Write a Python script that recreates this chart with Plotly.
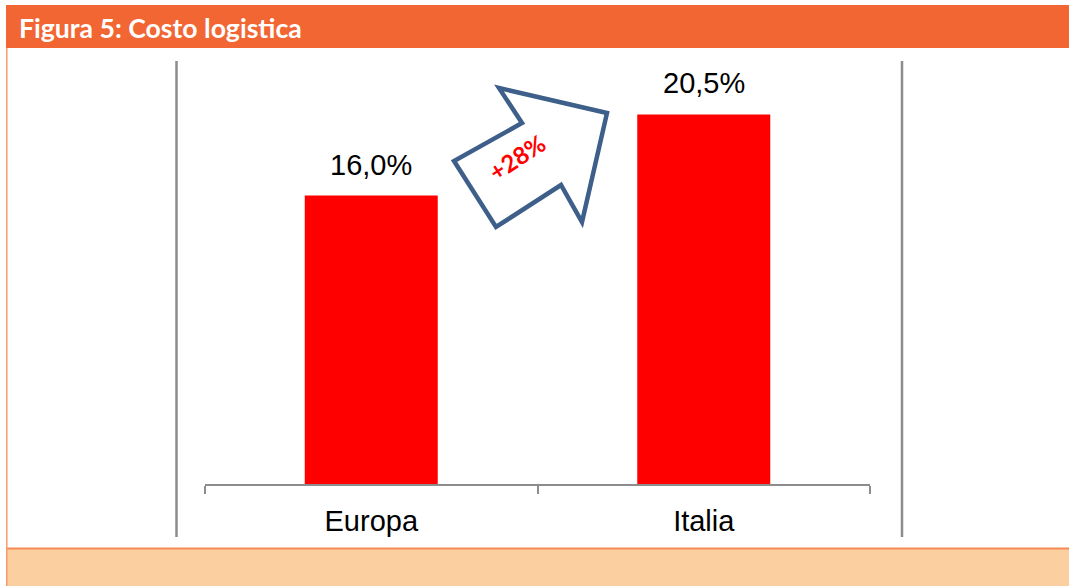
import plotly.graph_objects as go

# ---- data ----
categories = ["Europa", "Italia"]
values = [16.0, 20.5]
increase_label = "+28%"
title_text = "Figura 5: Costo logistica"

W, H = 1069, 586
L, R, T, B = 205, 199, 62, 102   # plot area 205..870 x 62..484
PW, PH = W - L - R, H - T - B
YMAX = PH / 18.03

def px(x):
    return (x - L) / PW

def py(y):
    return (H - B - y) / PH

fig = go.Figure()
fig.add_trace(go.Bar(
    x=categories, y=values, width=0.4,
    marker=dict(color="#FF0000", line=dict(width=0)),
    hoverinfo="skip",
))

shapes = []
# header band
shapes.append(dict(type="rect", xref="paper", yref="paper",
                   x0=px(6), x1=px(W + 5), y0=py(48), y1=py(5),
                   fillcolor="#F26633", line=dict(width=0), layer="below"))
# bottom band
shapes.append(dict(type="rect", xref="paper", yref="paper",
                   x0=px(6), x1=px(W + 5), y0=py(H + 5), y1=py(548),
                   fillcolor="#FCCFA0", line=dict(width=0), layer="below"))
shapes.append(dict(type="line", xref="paper", yref="paper",
                   x0=px(6), x1=px(W + 5), y0=py(548.5), y1=py(548.5),
                   line=dict(color="#F58A52", width=2)))
# left border
shapes.append(dict(type="line", xref="paper", yref="paper",
                   x0=px(6.8), x1=px(6.8), y0=py(48), y1=py(H + 5),
                   line=dict(color="#F89A6E", width=1.5)))
# grey vertical frame lines
for xv in (176.5, 902):
    shapes.append(dict(type="line", xref="paper", yref="paper",
                       x0=px(xv), x1=px(xv), y0=py(61), y1=py(537),
                       line=dict(color="#8C8C8C", width=2.5)))
# arrow
arrow_pts = [(454, 161), (496, 227), (561, 185), (582, 222),
             (607, 113), (499, 88), (522, 123)]
path = "M " + " L ".join(f"{px(a):.5f},{py(b):.5f}" for a, b in arrow_pts) + " Z"
shapes.append(dict(type="path", xref="paper", yref="paper", path=path,
                   fillcolor="white", line=dict(color="#3D5F8A", width=4.5)))

annotations = []
annotations.append(dict(xref="paper", yref="paper", x=px(17), y=py(28),
                        xanchor="left", yanchor="middle", showarrow=False,
                        text=f"<b>{title_text}</b>",
                        font=dict(family="Lato", size=26.6, color="white")))
for c, v in zip(categories, values):
    annotations.append(dict(x=c, y=v, xref="x", yref="y", showarrow=False,
                            yanchor="bottom", yshift=13,
                            text=f"{v:.1f}".replace(".", ",") + "%",
                            font=dict(family="Liberation Sans, Arial", size=29, color="black")))
annotations.append(dict(xref="paper", yref="paper", x=px(516), y=py(157),
                        xanchor="center", yanchor="middle",
                        showarrow=False, textangle=-33,
                        text=f"<b>{increase_label}</b>",
                        font=dict(family="Lato", size=24, color="#FF0000", weight=900)))

fig.update_layout(
    width=W, height=H,
    margin=dict(l=L, r=R, t=T, b=B, pad=0),
    paper_bgcolor="white", plot_bgcolor="white",
    showlegend=False,
    shapes=shapes, annotations=annotations,
    xaxis=dict(showgrid=False, showline=True, linecolor="#8C8C8C", linewidth=2,
               ticks="outside", tickson="boundaries", ticklen=8, tickwidth=2,
               tickcolor="#8C8C8C", range=[-0.5, 1.5],
               tickfont=dict(family="Liberation Sans, Arial", size=29, color="black"),
               ticklabelstandoff=10),
    yaxis=dict(visible=False, range=[0, YMAX], showgrid=False, zeroline=False),
)
fig.write_html("out.html", config={"displayModeBar": False},
               post_script="document.body.style.margin='0';document.body.style.overflow='hidden';")
